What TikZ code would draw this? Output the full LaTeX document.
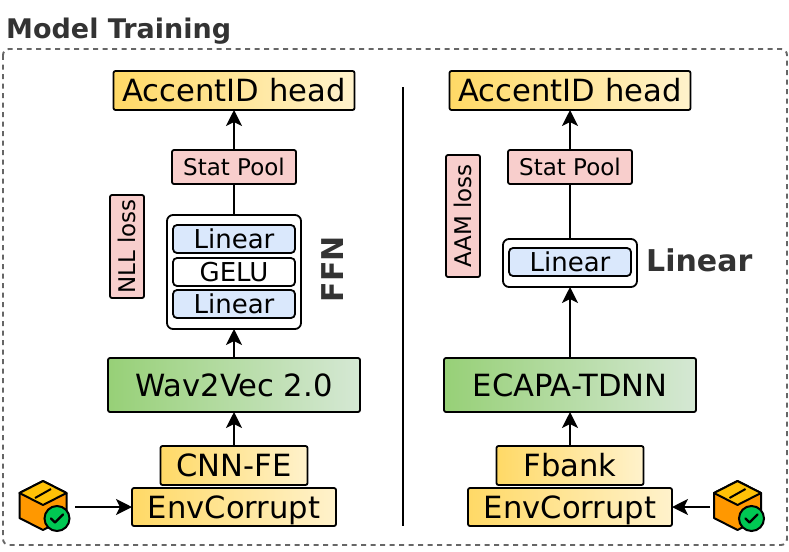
\documentclass[tikz,border=0pt]{standalone}
\usepackage{fontspec}
\setmainfont{DejaVu Sans}
\usepackage{tikz}
\usetikzlibrary{positioning,arrows.meta}
\definecolor{titlegray}{HTML}{333333}
\definecolor{framegray}{HTML}{666666}
\definecolor{yellowl}{HTML}{FFD966}
\definecolor{yellowr}{HTML}{FFF2CC}
\definecolor{greenl}{HTML}{97D077}
\definecolor{greenr}{HTML}{D5E8D4}
\definecolor{pinkfill}{HTML}{F8CECC}
\definecolor{bluefill}{HTML}{DAE8FC}
\definecolor{pkgorange}{HTML}{FF9800}
\definecolor{pkgyellow}{HTML}{FFC107}
\definecolor{pkggreen}{HTML}{00C853}

\begin{document}
\begin{tikzpicture}[x=1pt,y=-1pt]
            \tikzstyle{block}=[draw,line width=1.8pt,rounded corners=2pt,inner sep=0pt,outer sep=0pt,text depth=0pt]
            \tikzstyle{yellowblock}=[block,left color=yellowl,right color=yellowr,text height=22.3pt,font=\fontsize{30.6}{30.6}\selectfont]
            \tikzstyle{accentblock}=[yellowblock,minimum width=241pt,minimum height=39pt]
            \tikzstyle{envblock}=[yellowblock,minimum width=204pt,minimum height=38pt]
            \tikzstyle{feblock}=[yellowblock,minimum width=147pt,minimum height=39pt]
            \tikzstyle{encblock}=[block,left color=greenl,right color=greenr,minimum width=252pt,minimum height=54pt,text height=22.3pt,font=\fontsize{30.6}{30.6}\selectfont]
            \tikzstyle{pinkblock}=[block,fill=pinkfill,text height=16.8pt,font=\fontsize{23}{23}\selectfont]
            \tikzstyle{poolblock}=[pinkblock,minimum width=124pt,minimum height=34pt]
            \tikzstyle{outerblock}=[block,rounded corners=6pt,fill=white,minimum width=134pt]
            \tikzstyle{innerblock}=[block,rounded corners=4pt,minimum width=122pt,minimum height=28pt,text height=19pt,font=\fontsize{26}{26}\selectfont]
            \tikzstyle{linearblock}=[innerblock,fill=bluefill]
            \tikzstyle{sidelabel}=[text=titlegray,font=\bfseries\fontsize{30}{30}\selectfont,inner sep=0pt]
            \tikzstyle{flow}=[line width=1.8pt,-{Stealth[length=16pt,width=16pt,inset=4pt]}]
            \tikzstyle{flowplain}=[line width=1.8pt]
            \tikzset{pkgicon/.pic={
                \draw [line width=2pt,fill=pkgorange,line join=round] (0,-24) -- (-23.5,-12) -- (-23.5,13) -- (0,25) -- (23.5,13) -- (23.5,-12) -- cycle;
                \draw [line width=2pt,fill=pkgyellow,line join=round] (0,-24) -- (-23.5,-12) -- (0,0) -- (23.5,-12) -- cycle;
                \draw [line width=2pt] (-8,-7) -- (8,-16);
                \draw [line width=2pt,fill=pkggreen] (14,13.5) circle (12.5);
                \draw [line width=2.2pt,line cap=round,line join=round] (8,13.5) -- (12,17.5) -- (20,9.5);
            }}

            \useasboundingbox (0,0) rectangle (789,551);

            % frame and title
            \draw [framegray,line width=1.9pt,dash pattern=on 5pt off 4.5pt,rounded corners=6pt] (3,49) rectangle (787,545);
            \node (title) [anchor=base west,inner sep=0pt,text=titlegray,font=\bfseries\fontsize{27}{27}\selectfont] at (6,39) {Model Training};
            \coordinate (dividertop) at (403,87);
            \coordinate (dividerbot) at (403,526);
            \draw [line width=1.6pt] (dividertop) -- (dividerbot);

            % left branch
            \node (envl) [envblock] at (234,507) {EnvCorrupt};
            \node (fel) [feblock,above=3pt of envl] {CNN-FE};
            \node (encl) [encblock,above=34pt of fel] {Wav2Vec 2.0};
            \node (ffnl) [outerblock,minimum height=114pt,above=29pt of encl] {};
            \node (linl) [linearblock,below=10pt of ffnl.north] {Linear};
            \node (gelu) [innerblock,fill=white,below=5pt of linl] {GELU};
            \node (linm) [linearblock,below=4pt of gelu] {Linear};
            \node (pooll) [poolblock,above=31pt of ffnl] {Stat Pool};
            \node (headl) [accentblock,above=40pt of pooll] {AccentID head};
            \node (nll) [pinkblock,rotate=90,minimum width=103pt,minimum height=34pt] at (127,246.5) {NLL loss};
            \node (ffntext) [sidelabel,rotate=90] at (333,269) {FFN};
            \pic at (43,505) {pkgicon};
            \coordinate (pkgl) at (75,507);

            \draw [flow] (pkgl) -- (envl);
            \draw [flow] (fel) -- (encl);
            \draw [flow] (encl) -- (ffnl);
            \draw [flowplain] (ffnl) -- (pooll);
            \draw [flow] (pooll) -- (headl);

            % right branch
            \node (envr) [envblock] at (570,507) {EnvCorrupt};
            \node (fer) [feblock,above=3pt of envr] {Fbank};
            \node (encr) [encblock,above=34pt of fer] {ECAPA-TDNN};
            \node (ffnr) [outerblock,minimum height=48pt,above=71pt of encr] {};
            \node (linr) [linearblock,below=9pt of ffnr.north] {Linear};
            \node (poolr) [poolblock,above=55pt of ffnr] {Stat Pool};
            \node (headr) [accentblock,above=40pt of poolr] {AccentID head};
            \node (aam) [pinkblock,rotate=90,minimum width=122pt,minimum height=34pt] at (463,216) {AAM loss};
            \node (lintext) [sidelabel,anchor=west] at (646,260) {Linear};
            \pic at (737.5,505) {pkgicon};
            \coordinate (pkgr) at (710,507);

            \draw [flow] (pkgr) -- (envr);
            \draw [flow] (fer) -- (encr);
            \draw [flow] (encr) -- (ffnr);
            \draw [flowplain] (ffnr) -- (poolr);
            \draw [flow] (poolr) -- (headr);
        \end{tikzpicture}
\end{document}
